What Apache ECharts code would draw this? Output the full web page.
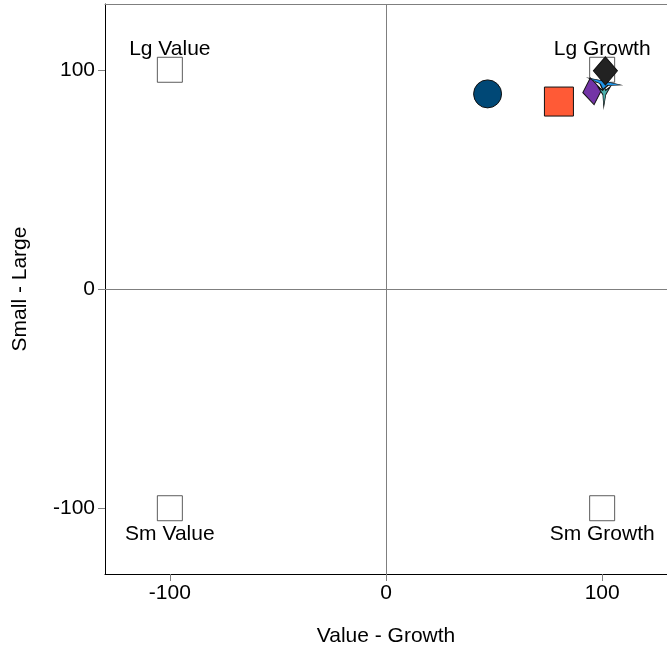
<!DOCTYPE html>
<html>
<head>
<meta charset="utf-8">
<script src="https://cdn.jsdelivr.net/npm/echarts@6/dist/echarts.min.js"></script>
<style>
  html, body { margin: 0; padding: 0; background: #fff; }
  #chart { width: 667px; height: 652px; }
</style>
</head>
<body>
<div id="chart"></div>
<script>
// Style-box corners
const boxNames = ['Lg Value', 'Lg Growth', 'Sm Value', 'Sm Growth'];
const boxX = [-100, 100, -100, 100];
const boxY = [100, 100, -100, -100];

// Plotted holdings (value-growth score, small-large score)
const pointNames = ['Fund A', 'Fund B', 'Fund C', 'Fund D', 'Fund E', 'Fund F'];
const pointX = [47, 80, 95.4, 101, 101, 101.5];
const pointY = [89, 85.5, 90.2, 88.4, 94, 99.5];

const tickValues = [-100, 0, 100];

const FONT = 'Liberation Sans, Arial, sans-serif';
const FS = 21;

const pointStyles = [
  { symbol: 'circle', size: 28, color: '#004876', rotate: 0 },
  { symbol: 'rect', size: 29, color: '#ff5a36', rotate: 0 },
  { symbol: 'diamond', size: [19, 27], color: '#7334a6', rotate: 8 },
  { symbol: 'path://M45 0 L60 30 L100 15 L62 48 L45 100 L38 48 L0 18 L38 30 Z', size: [12, 24], color: '#4cb1ad', rotate: 0 },
  { symbol: 'path://M0 40 L40 38 L50 0 L60 38 L100 40 L62 62 L50 100 L38 62 Z', size: [33, 14], color: '#1e94e8', rotate: -12 },
  { symbol: 'diamond', size: [24, 28], color: '#222222', rotate: 0 }
];

const chart = echarts.init(document.getElementById('chart'));

const series = [{
  type: 'scatter',
  name: 'Style boxes',
  symbol: 'rect',
  symbolSize: 25,
  itemStyle: { color: '#ffffff', borderColor: '#333333', borderWidth: 1 },
  data: boxNames.map((n, i) => ({
    name: n,
    value: [boxX[i], boxY[i]],
    label: {
      show: true,
      formatter: n,
      position: boxY[i] > 0 ? 'top' : 'bottom',
      distance: boxY[i] > 0 ? -3 : 2,
      color: '#000000',
      opacity: 1,
      textBorderWidth: 0,
      fontFamily: FONT,
      fontSize: FS
    }
  })),
  markLine: {
    silent: true,
    symbol: 'none',
    label: { show: false },
    lineStyle: { color: '#7f7f7f', width: 1, type: 'solid' },
    data: [{ xAxis: 0 }, { yAxis: 0 }]
  },
  z: 2
}];

pointNames.forEach((n, i) => {
  const s = pointStyles[i];
  series.push({
    type: 'scatter',
    name: n,
    symbol: s.symbol,
    symbolSize: s.size,
    symbolRotate: s.rotate,
    itemStyle: { color: s.color, borderColor: '#111111', borderWidth: 1, opacity: 1 },
    data: [[pointX[i], pointY[i]]],
    z: 3 + i
  });
});

chart.setOption({
  backgroundColor: '#ffffff',
  animation: false,
  grid: { left: 105, top: 4, width: 565, height: 570 },
  xAxis: [{
    type: 'value',
    min: -130, max: 130,
    position: 'bottom',
    name: 'Value - Growth',
    nameLocation: 'middle',
    nameGap: 52,
    nameTextStyle: { color: '#000', fontFamily: FONT, fontSize: FS },
    axisLine: { onZero: false, lineStyle: { color: '#000', width: 1 } },
    axisTick: { show: true, length: 7, customValues: tickValues, lineStyle: { color: '#7f7f7f' } },
    axisLabel: { customValues: tickValues, color: '#000', fontFamily: FONT, fontSize: FS, margin: 9 },
    splitLine: { show: false }
  }, {
    type: 'value',
    min: -130, max: 130,
    position: 'top',
    axisLine: { onZero: false, lineStyle: { color: '#7f7f7f', width: 1 } },
    axisTick: { show: false },
    axisLabel: { show: false },
    splitLine: { show: false }
  }],
  yAxis: [{
    type: 'value',
    min: -130, max: 130,
    position: 'left',
    name: 'Small - Large',
    nameLocation: 'middle',
    nameGap: 74,
    nameTextStyle: { color: '#000', fontFamily: FONT, fontSize: FS },
    axisLine: { onZero: false, lineStyle: { color: '#000', width: 1 } },
    axisTick: { show: true, length: 7, customValues: tickValues, lineStyle: { color: '#7f7f7f' } },
    axisLabel: { customValues: tickValues, color: '#000', fontFamily: FONT, fontSize: FS, margin: 10 },
    splitLine: { show: false }
  }],
  series: series
});
</script>
</body>
</html>
